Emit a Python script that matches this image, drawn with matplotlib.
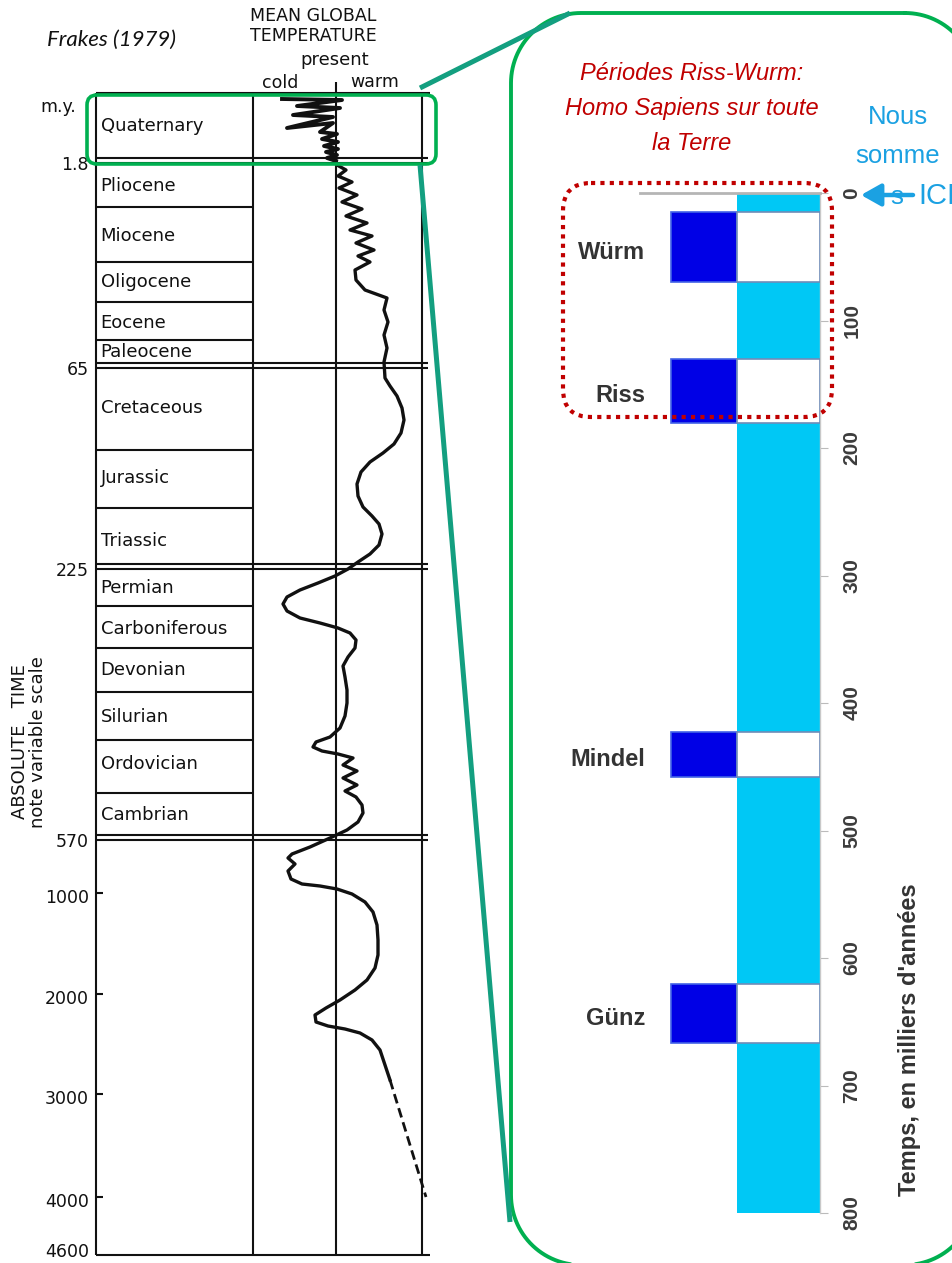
import numpy as np
import matplotlib.pyplot as plt
from matplotlib.patches import FancyBboxPatch

W, H = 953, 1263

# ---------- left: Frakes (1979) column, rows follow the drawing's variable scale
periods = ['Quaternary', 'Pliocene', 'Miocene', 'Oligocene', 'Eocene', 'Paleocene',
           'Cretaceous', 'Jurassic', 'Triassic', 'Permian', 'Carboniferous',
           'Devonian', 'Silurian', 'Ordovician', 'Cambrian']
period_rows = [126, 186, 236, 282, 323, 352, 408, 478, 541, 588, 629, 670, 717, 764, 815]
single_bounds = [207, 262, 302, 340, 450, 508, 606, 648, 692, 740, 793]
double_bounds = [160, 365, 566, 837]
age_labels = ['1.8', '65', '225', '570', '1000', '2000', '3000', '4000', '4600']
age_rows = [160, 365, 566, 837, 893, 994, 1094, 1197, 1255]
tick_rows = [893, 994, 1094, 1197]

# mean global temperature, arbitrary units (0 = present, <0 cold, >0 warm)
temp_quat = [-54, 6, -39, 4, -43, -3, -49, -3, -16, 1, -14, 2, -12, 2, -10, 1, -9, 0]
rows_quat = [99, 100, 106, 108, 115, 117, 128, 123, 132, 134, 139, 142, 146, 149, 152, 155, 158, 161]
temp = [0, 1, 10, 2, 16, 3, 21, 6, 26, 10, 31, 14, 36, 20, 38, 22, 34, 19, 20, 29, 51,
        48, 52, 48, 51, 48, 49,
        54, 61, 66, 68, 65, 58, 47, 34, 25, 21, 22, 27, 36, 43, 46, 43, 34, 22, 12,
        -1, -18, -36, -49, -53, -49, -36, -16, 2, 14, 20, 19, 12, 7, 9, 11, 11, 9, 4,
        -6, -20, -23, -14, 2, 17,
        7, 21, 7, 21, 9, 20, 26, 27, 22, 11, -6, -26, -44, -48, -41, -48, -45, -34,
        -16, 1, 16, 29, 37, 41, 42, 42, 39, 31, 19, 4, -10, -21, -20, -8, 9, 24, 36,
        44, 49, 54]
temp_rows = [161, 165, 170, 176, 182, 188, 195, 202, 209, 216, 223, 230, 236, 243, 250, 256,
             262, 270, 280, 290, 298,
             310, 322, 335, 348, 362, 378,
             386, 396, 408, 420, 433, 444, 453, 462, 472, 484, 496, 507, 516, 524, 534, 545,
             554, 562, 569,
             576, 583, 590, 597, 604, 611, 618, 623, 628, 633, 640, 648, 657, 666, 677, 690,
             703, 716, 728, 737, 742, 747, 751, 754, 758,
             765, 771, 778, 785, 791, 797, 805, 813, 822, 830, 838, 847, 854, 858, 864, 871,
             879, 884, 886, 889, 894, 902, 912, 925, 940, 955, 968, 980, 990, 1000, 1008,
             1015, 1022, 1026, 1029, 1033, 1040, 1050, 1065, 1080]
temp_dashed = [54, 90]
rows_dashed = [1080, 1197]

# ---------- right: glaciations (thousands of years)
glaciations = ['Würm', 'Riss', 'Mindel', 'Günz']
glac_start = [15, 130, 423, 620]
glac_end = [70, 180, 458, 667]
record_end = 800
ka_ticks = [0, 100, 200, 300, 400, 500, 600, 700, 800]

SANS = ['Liberation Sans', 'DejaVu Sans']
BLUE_TXT = '#1ba1e2'
RED = '#c00000'
GREEN = '#00b050'
TEAL = '#139f80'


def frac(x0, y0, x1, y1):
    return [x0 / W, 1 - y1 / H, (x1 - x0) / W, (y1 - y0) / H]


def rounded_outline(x0, y0, x1, y1, r, n=30):
    # outline of a rounded rectangle (y grows downwards)
    xs, ys = [], []
    for cx, cy, a0 in [(x1 - r, y0 + r, -90), (x1 - r, y1 - r, 0),
                       (x0 + r, y1 - r, 90), (x0 + r, y0 + r, 180)]:
        a = np.radians(np.linspace(a0, a0 + 90, n))
        xs += list(cx + r * np.cos(a))
        ys += list(cy + r * np.sin(a))
    return xs + xs[:1], ys + ys[:1]


fig = plt.figure(figsize=(W / 100, H / 100), dpi=100)

# ---- period column
axp = fig.add_axes(frac(96, 93, 253, 1255))
axp.set_xlim(0, 1)
axp.set_ylim(1255, 93)
axp.axis('off')
kw = dict(color='#111111', lw=1.5, clip_on=False)
axp.vlines([0, 1], 93, 1255, **kw)
axp.hlines([93, 1255], 0, 1, **kw)
axp.hlines(single_bounds, 0, 1, **kw)
for r in double_bounds:
    axp.hlines([r - 2.5, r + 2.5], 0, 1, **kw)
axp.hlines(tick_rows, 0, 0.045, **kw)
for name, r in zip(periods, period_rows):
    axp.text(0.03, r, name, ha='left', va='center', fontsize=13, color='#111111')
for lab, r in zip(age_labels, age_rows):
    axp.text(-0.045, min(r + 5, 1252), lab, ha='right', va='center', fontsize=12.5,
             color='#111111')

# ---- temperature column
axt = fig.add_axes(frac(253, 93, 430, 1255))
axt.set_xlim(-83, 94)
axt.set_ylim(1255, 93)
axt.axis('off')
axt.vlines(0, 82, 1255, **kw)
axt.vlines(86, 93, 1255, **kw)
axt.hlines([93, 1255], -83, 94, **kw)
for r in double_bounds:
    axt.hlines([r - 2.5, r + 2.5], -83, 92, **kw)
axt.plot(temp_quat, rows_quat, color='#111111', lw=2.8, solid_joinstyle='round', clip_on=False)
axt.plot(temp, temp_rows, color='#111111', lw=2.4, solid_joinstyle='round', clip_on=False)
axt.plot(temp_dashed, rows_dashed, color='#111111', lw=2.0, ls=(0, (3.5, 1.8)), clip_on=False)

# ---- glaciations chart
axg = fig.add_axes(frac(640, 193, 820, 1213))
axg.set_xlim(-31 / 66, 1 + 83 / 66)
axg.set_ylim(record_end, 0)
dur = [e - s for s, e in zip(glac_start, glac_end)]
axg.bar(1, record_end, width=83 / 66, bottom=0, align='edge', color='#00c8f5', zorder=2)
axg.bar([0] * 4, dur, width=1, bottom=glac_start, align='edge', color='#0000e6',
        edgecolor='#4262e6', lw=1.2, zorder=3)
axg.bar([1] * 4, dur, width=83 / 66, bottom=glac_start, align='edge', color='white',
        edgecolor='#6f8cb8', lw=1.2, zorder=3)
for name, s, e in zip(glaciations, glac_start, glac_end):
    axg.text(-0.39, (s + e) / 2 + 4, name, ha='right', va='center', fontsize=17,
             fontweight='bold', color='#333333', family=SANS)
for side in ['left', 'bottom']:
    axg.spines[side].set_visible(False)
axg.spines['top'].set_color('#b5b5b5')
axg.spines['top'].set_linewidth(2)
axg.spines['right'].set_color('#c8c8c8')
axg.spines['right'].set_linewidth(1)
axg.set_xticks([])
axg.yaxis.tick_right()
axg.set_yticks(ka_ticks)
axg.tick_params(axis='y', direction='out', length=6, color='#bbbbbb', labelsize=15,
                labelcolor='#3c3c3c', labelrotation=90, pad=10)
for t in axg.get_yticklabels():
    t.set_fontweight('bold')
    t.set_family(SANS)
    t.set_va('center')
axg.set_ylabel("Temps, en milliers d'années", fontsize=17, fontweight='bold',
               color='#333333', family=SANS)
axg.yaxis.set_label_position('right')
axg.yaxis.set_label_coords(1.5, 0.17)
axg.yaxis.label.set_va('center')
axg.yaxis.label.set_ha('center')

# ---- overlay (annotations in pixel units)
ov = fig.add_axes([0, 0, 1, 1])
ov.set_xlim(0, W)
ov.set_ylim(H, 0)
ov.set_autoscale_on(False)
ov.axis('off')
ov.set_zorder(10)

ov.text(47, 40, 'Frakes (1979)', ha='left', va='center', fontsize=16, style='italic',
        family=['Lato', 'DejaVu Sans'], color='#111111')
ov.text(313, 16, 'MEAN GLOBAL', ha='center', va='center', fontsize=12.5, color='#111111')
ov.text(313, 36, 'TEMPERATURE', ha='center', va='center', fontsize=12.5, color='#111111')
ov.text(335, 60, 'present', ha='center', va='center', fontsize=13, color='#111111')
ov.text(280, 83, 'cold', ha='center', va='center', fontsize=12.5, color='#111111')
ov.text(375, 82, 'warm', ha='center', va='center', fontsize=12.5, color='#111111')
ov.text(58, 107, 'm.y.', ha='center', va='center', fontsize=12.5, color='#111111')
ov.text(20, 742, 'ABSOLUTE   TIME', ha='center', va='center', rotation=90, fontsize=13,
        color='#111111')
ov.text(38, 742, 'note variable scale', ha='center', va='center', rotation=90, fontsize=13,
        color='#111111')

ov.add_patch(FancyBboxPatch((87, 95), 349, 69, boxstyle='round,pad=0,rounding_size=10',
                            fill=False, ec=GREEN, lw=2.6))
bx, by = rounded_outline(511, 13, 975, 1265, 70)
ov.plot(bx, by, color=GREEN, lw=2.8)
ov.plot([420, 570], [88, 13], color=TEAL, lw=3.6, solid_capstyle='butt')
ov.plot([420, 510], [165, 1222], color=TEAL, lw=3.6, solid_capstyle='butt')

ov.add_patch(FancyBboxPatch((563, 183), 269, 234, boxstyle='round,pad=0,rounding_size=28',
                            fill=False, ec=RED, lw=3, ls=(0, (1, 1.25))))

for txt, y in zip(['Périodes Riss-Wurm:', 'Homo Sapiens sur toute', 'la Terre'], [73, 108, 143]):
    ov.text(692, y, txt, ha='center', va='center', fontsize=17, style='italic',
            family=SANS, color=RED)

ov.text(898, 117, 'Nous', ha='center', va='center', fontsize=18.5, family=SANS, color=BLUE_TXT)
ov.text(898, 156, 'somme', ha='center', va='center', fontsize=18.5, family=SANS, color=BLUE_TXT)
ov.text(897, 197, 's', ha='center', va='center', fontsize=18.5, family=SANS, color=BLUE_TXT)
ov.text(918, 196, 'ICI', ha='left', va='center', fontsize=21, family=SANS, color=BLUE_TXT)
ov.annotate('', xy=(861, 195), xytext=(913, 195),
            arrowprops=dict(arrowstyle='-|>,head_length=0.8,head_width=0.45', color=BLUE_TXT,
                            lw=3.2, shrinkA=0, shrinkB=0, mutation_scale=15))

fig.savefig('out.png', dpi=100)
